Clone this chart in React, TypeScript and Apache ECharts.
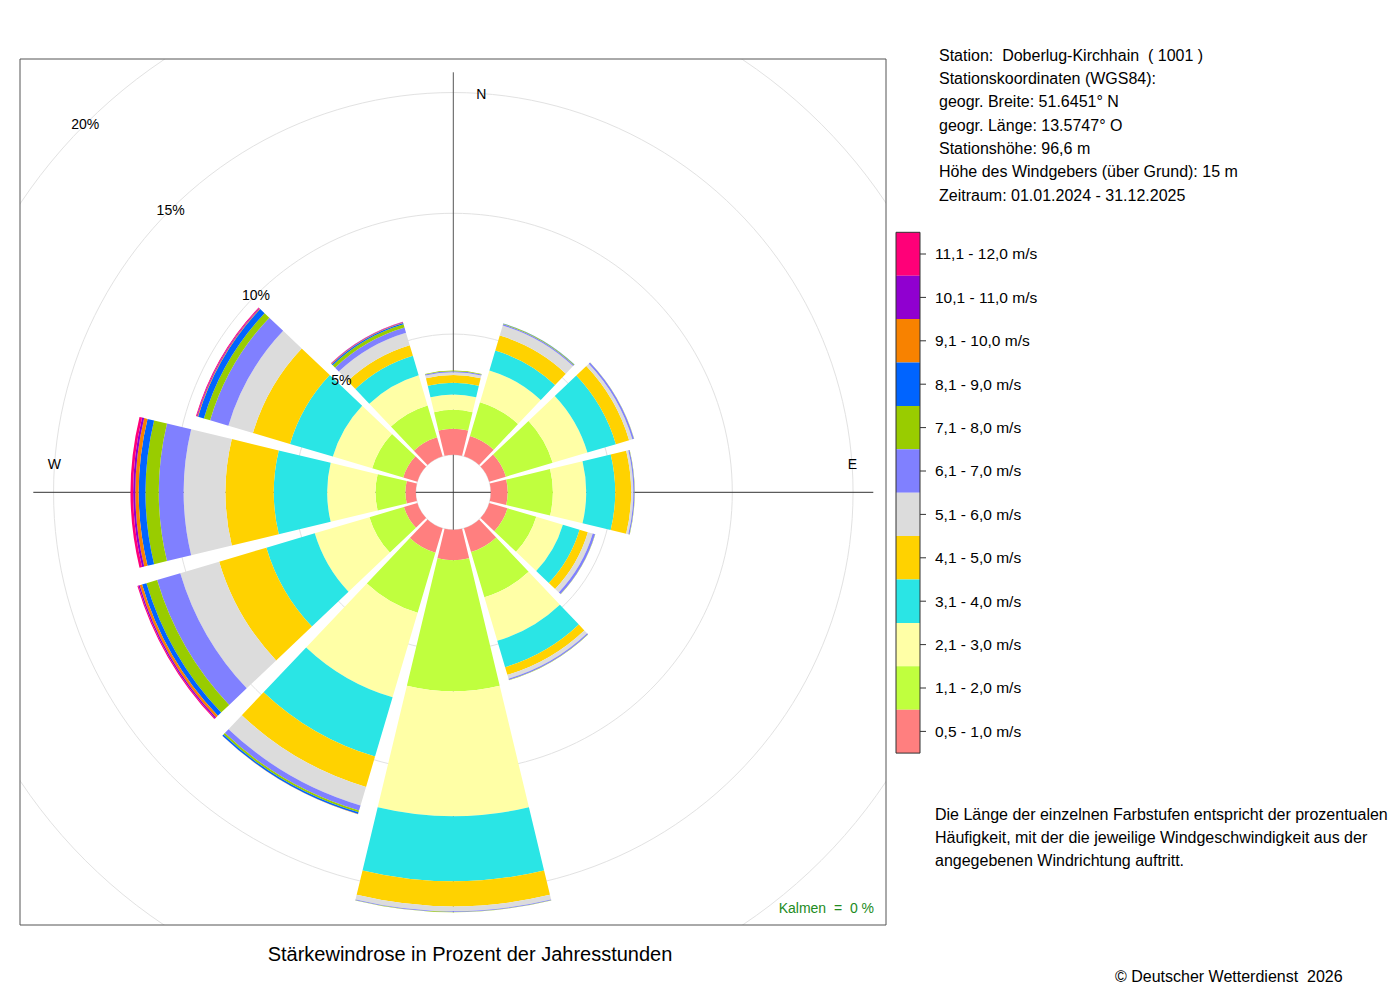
import React, { useEffect, useRef } from "react";
import * as echarts from "echarts";

// ---------- data ----------
const directions = ["N", "NNO", "ONO", "O", "OSO", "SSO", "S", "SSW", "WSW", "W", "WNW", "NNW"];

const speedClasses = [
  "0,5 - 1,0 m/s",
  "1,1 - 2,0 m/s",
  "2,1 - 3,0 m/s",
  "3,1 - 4,0 m/s",
  "4,1 - 5,0 m/s",
  "5,1 - 6,0 m/s",
  "6,1 - 7,0 m/s",
  "7,1 - 8,0 m/s",
  "8,1 - 9,0 m/s",
  "9,1 - 10,0 m/s",
  "10,1 - 11,0 m/s",
  "11,1 - 12,0 m/s",
];

const classColors = [
  "#FF7F7F",
  "#C0FF3E",
  "#FFFFA6",
  "#2AE5E5",
  "#FFD200",
  "#DCDCDC",
  "#8080FF",
  "#99CC00",
  "#0064FF",
  "#F88200",
  "#9000D0",
  "#FF0078",
];

// percent of hours per direction (N, 30°, 60°, ... 330°)
const v0510 = [1.08, 0.88, 0.72, 0.70, 0.79, 1.03, 1.26, 1.06, 0.58, 0.43, 0.61, 0.82];
const v1120 = [0.78, 1.46, 2.02, 1.87, 1.24, 1.95, 5.42, 2.59, 1.49, 1.24, 1.34, 1.38];
const v2130 = [0.64, 1.37, 1.50, 1.38, 1.15, 1.88, 5.18, 3.65, 2.36, 2.00, 1.70, 1.30];
const v3140 = [0.48, 0.86, 1.23, 1.20, 0.72, 1.14, 2.69, 2.56, 2.09, 2.21, 1.85, 0.84];
const v4150 = [0.32, 0.65, 0.57, 0.66, 0.36, 0.33, 1.04, 1.31, 2.04, 2.00, 1.60, 0.46];
const v5160 = [0.12, 0.43, 0.14, 0.09, 0.21, 0.17, 0.20, 0.80, 1.68, 1.73, 1.06, 0.54];
const v6170 = [0.04, 0.05, 0.07, 0.05, 0.10, 0.05, 0.03, 0.22, 1.00, 1.03, 0.79, 0.22];
const v7180 = [0.03, 0.03, 0.01, 0.01, 0.01, 0.01, 0.01, 0.08, 0.46, 0.55, 0.27, 0.14];
const v8190 = [0.00, 0.01, 0.00, 0.00, 0.00, 0.00, 0.00, 0.07, 0.19, 0.28, 0.25, 0.06];
const v91100 = [0.00, 0.00, 0.00, 0.00, 0.00, 0.00, 0.00, 0.01, 0.10, 0.14, 0.03, 0.02];
const v101110 = [0.00, 0.00, 0.00, 0.00, 0.00, 0.00, 0.00, 0.00, 0.06, 0.09, 0.03, 0.02];
const v111120 = [0.00, 0.00, 0.00, 0.00, 0.00, 0.00, 0.00, 0.00, 0.04, 0.11, 0.03, 0.01];

const classValues = [v0510, v1120, v2130, v3140, v4150, v5160, v6170, v7180, v8190, v91100, v101110, v111120];

const ringTicks = [5, 10, 15, 20];
const compassLabels = ["N", "E", "W"];

const stationInfo = [
  "Station:  Doberlug-Kirchhain  ( 1001 )",
  "Stationskoordinaten (WGS84):",
  "geogr. Breite: 51.6451° N",
  "geogr. Länge: 13.5747° O",
  "Stationshöhe: 96,6 m",
  "Höhe des Windgebers (über Grund): 15 m",
  "Zeitraum: 01.01.2024 - 31.12.2025",
];

const descriptionLines = [
  "Die Länge der einzelnen Farbstufen entspricht der prozentualen",
  "Häufigkeit, mit der die jeweilige Windgeschwindigkeit aus der",
  "angegebenen Windrichtung auftritt.",
];

const titleText = "Stärkewindrose in Prozent der Jahresstunden";
const calmText = "Kalmen  =  0 %";
const copyrightText = "© Deutscher Wetterdienst  2026";

// ---------- layout ----------
const FONT = "'Liberation Sans', Arial, Helvetica, sans-serif";
const CX = 453.3;
const CY = 492.3;
const R0 = 37.5;
const PX_PER_PCT = 24.15;
const MAX_PCT = 20;
const R1 = R0 + MAX_PCT * PX_PER_PCT;
const FRAME = { x: 20, y: 59, w: 866, h: 866 };
const LEG = { x: 896, y: 232.3, w: 24, h: 43.4 };

function pctToPx(v: number) {
  return R0 + v * PX_PER_PCT;
}

function buildOption() {
  const elements: any[] = [];

  // axis cross (under bars)
  const crossR = 420;
  elements.push({
    type: "line",
    z: 1,
    silent: true,
    shape: { x1: CX, y1: CY - crossR, x2: CX, y2: CY + crossR },
    style: { stroke: "#555", lineWidth: 1 },
  });
  elements.push({
    type: "line",
    z: 1,
    silent: true,
    shape: { x1: CX - crossR, y1: CY, x2: CX + crossR, y2: CY },
    style: { stroke: "#333", lineWidth: 1 },
  });

  // compass labels
  const compassPos: Record<string, [number, number]> = {
    N: [CX + 28, CY - 398],
    E: [CX + 399, CY - 28],
    W: [CX - 399, CY - 28],
  };
  compassLabels.forEach((c) => {
    elements.push({
      type: "text",
      z: 1,
      silent: true,
      x: compassPos[c][0],
      y: compassPos[c][1],
      style: {
        text: c,
        fill: "#000",
        fontSize: 14,
        fontFamily: FONT,
        textAlign: "center",
        textVerticalAlign: "middle",
      },
    });
  });

  // masks outside the frame (clip the rings)
  const maskStyle = { fill: "#fff" };
  [
    { x: 0, y: 0, width: FRAME.x, height: 1000 },
    { x: 0, y: 0, width: 1400, height: FRAME.y },
    { x: FRAME.x + FRAME.w, y: 0, width: 1400 - FRAME.x - FRAME.w, height: 1000 },
    { x: 0, y: FRAME.y + FRAME.h, width: 1400, height: 1000 - FRAME.y - FRAME.h },
  ].forEach((s) => elements.push({ type: "rect", z: 50, silent: true, shape: s, style: maskStyle }));

  // frame
  elements.push({
    type: "rect",
    z: 60,
    silent: true,
    shape: { x: FRAME.x, y: FRAME.y, width: FRAME.w, height: FRAME.h },
    style: { fill: "none", stroke: "#555", lineWidth: 1 },
  });

  // ring labels along 135°
  ringTicks.forEach((v) => {
    const r = pctToPx(v);
    elements.push({
      type: "text",
      z: 60,
      silent: true,
      x: CX - r * Math.SQRT1_2,
      y: CY - r * Math.SQRT1_2,
      style: {
        text: v + "%",
        fill: "#000",
        fontSize: 14,
        fontFamily: FONT,
        textAlign: "center",
        textVerticalAlign: "middle",
      },
    });
  });

  // calm text
  elements.push({
    type: "text",
    z: 60,
    silent: true,
    x: 874,
    y: 908,
    style: {
      text: calmText,
      fill: "#228B22",
      fontSize: 14,
      fontFamily: FONT,
      textAlign: "right",
      textVerticalAlign: "middle",
    },
  });

  // legend border + ticks
  const n = speedClasses.length;
  elements.push({
    type: "rect",
    z: 110,
    silent: true,
    shape: { x: LEG.x, y: LEG.y, width: LEG.w, height: LEG.h * n },
    style: { fill: "none", stroke: "#333", lineWidth: 1 },
  });
  for (let i = 0; i < n; i++) {
    const yc = LEG.y + LEG.h * (i + 0.5);
    elements.push({
      type: "line",
      z: 110,
      silent: true,
      shape: { x1: LEG.x + LEG.w, y1: yc, x2: LEG.x + LEG.w + 6, y2: yc },
      style: { stroke: "#333", lineWidth: 1 },
    });
  }

  // station info
  stationInfo.forEach((t, i) => {
    elements.push({
      type: "text",
      z: 110,
      silent: true,
      x: 939,
      y: 55.3 + i * 23.3,
      style: {
        text: t,
        fill: "#000",
        fontSize: 16,
        fontFamily: FONT,
        textAlign: "left",
        textVerticalAlign: "middle",
      },
    });
  });

  // description
  descriptionLines.forEach((t, i) => {
    elements.push({
      type: "text",
      z: 110,
      silent: true,
      x: 935,
      y: 814 + i * 23.2,
      style: {
        text: t,
        fill: "#000",
        fontSize: 16,
        fontFamily: FONT,
        textAlign: "left",
        textVerticalAlign: "middle",
      },
    });
  });

  // title
  elements.push({
    type: "text",
    z: 110,
    silent: true,
    x: 470,
    y: 954,
    style: {
      text: titleText,
      fill: "#000",
      fontSize: 20,
      fontFamily: FONT,
      textAlign: "center",
      textVerticalAlign: "middle",
    },
  });

  // copyright
  elements.push({
    type: "text",
    z: 110,
    silent: true,
    x: 1115,
    y: 976,
    style: {
      text: copyrightText,
      fill: "#000",
      fontSize: 16,
      fontFamily: FONT,
      textAlign: "left",
      textVerticalAlign: "middle",
    },
  });

  const series = speedClasses.map((name, i) => ({
    type: "bar",
    name,
    coordinateSystem: "polar",
    stack: "rose",
    data: classValues[i],
    barCategoryGap: "10%",
    itemStyle: { color: classColors[i], borderWidth: 0 },
    emphasis: { disabled: true },
    silent: true,
    z: 2,
  }));

  return {
    animation: false,
    backgroundColor: "#fff",
    textStyle: { fontFamily: FONT },
    polar: { center: [CX, CY], radius: [R0, R1] },
    angleAxis: {
      type: "category",
      data: directions,
      startAngle: 105,
      clockwise: true,
      boundaryGap: true,
      axisLine: { show: false },
      axisTick: { show: false },
      axisLabel: { show: false },
      splitLine: { show: false },
    },
    radiusAxis: {
      type: "value",
      min: 0,
      max: MAX_PCT,
      interval: 5,
      axisLine: { show: false },
      axisTick: { show: false },
      axisLabel: { show: false },
      splitLine: { show: true, lineStyle: { color: "#e2e2e2", width: 1 } },
    },
    legend: {
      orient: "vertical",
      left: LEG.x,
      top: LEG.y,
      padding: 0,
      itemWidth: LEG.w,
      itemHeight: LEG.h,
      itemGap: 0,
      icon: "rect",
      selectedMode: false,
      z: 100,
      data: [...speedClasses].reverse(),
      textStyle: { fontSize: 15.5, fontFamily: FONT, color: "#000", padding: [0, 0, 0, 10] },
    },
    graphic: { elements },
    series,
  };
}

export default function App() {
  const ref = useRef<HTMLDivElement>(null);
  useEffect(() => {
    if (!ref.current) return;
    const chart = echarts.init(ref.current, undefined, { renderer: "svg" });
    chart.setOption(buildOption() as any);
    return () => chart.dispose();
  }, []);
  return (
    <div
      ref={ref}
      style={{ position: "fixed", left: 0, top: 0, width: 1400, height: 1000, background: "#fff" }}
    />
  );
}
